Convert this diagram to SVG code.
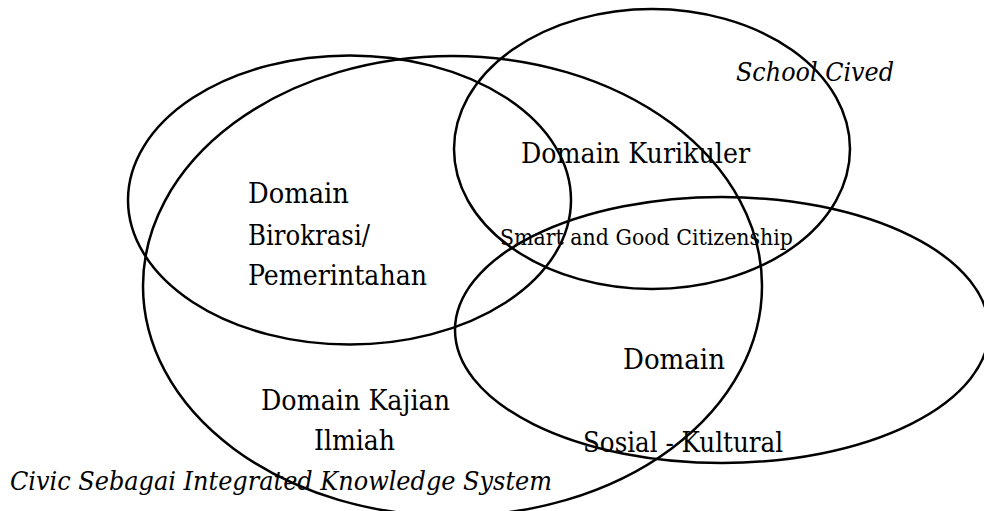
<svg xmlns="http://www.w3.org/2000/svg" width="984" height="511" viewBox="0 0 984 511">
<style>
.e{fill:none;stroke:#000;stroke-width:2.5}
.t{font-family:"DejaVu Serif","Liberation Serif",serif;font-size:27px;fill:#000}
.i{font-style:italic;font-size:26px}
.s{font-size:22px}
</style>
<rect width="984" height="511" fill="#fff"/>
<g id="birokrasi">
<ellipse class="e" cx="349.5" cy="200" rx="221.5" ry="144.5"/>
<text class="t" x="248" y="203" textLength="101" lengthAdjust="spacingAndGlyphs">Domain</text>
<text class="t" x="248" y="245" textLength="122" lengthAdjust="spacingAndGlyphs">Birokrasi/</text>
<text class="t" x="248" y="285" textLength="179" lengthAdjust="spacingAndGlyphs">Pemerintahan</text>
</g>
<g id="kajian">
<ellipse class="e" cx="452.5" cy="286" rx="309.5" ry="230"/>
<text class="t" x="261" y="410" textLength="189" lengthAdjust="spacingAndGlyphs">Domain Kajian</text>
<text class="t" x="314" y="450" textLength="81" lengthAdjust="spacingAndGlyphs">Ilmiah</text>
</g>
<g id="kurikuler">
<ellipse class="e" cx="652" cy="149" rx="198" ry="140"/>
<text class="t" x="521" y="163" textLength="229" lengthAdjust="spacingAndGlyphs">Domain Kurikuler</text>
<text class="t i" x="736" y="81" textLength="158" lengthAdjust="spacingAndGlyphs">School Cived</text>
</g>
<g id="sosial">
<ellipse class="e" cx="722" cy="330" rx="267" ry="133"/>
<text class="t" x="623" y="369" textLength="102" lengthAdjust="spacingAndGlyphs">Domain</text>
<text class="t" x="583" y="452" textLength="200" lengthAdjust="spacingAndGlyphs">Sosial - Kultural</text>
</g>
<g id="center">
<text class="t s" x="500" y="245" textLength="293" lengthAdjust="spacingAndGlyphs">Smart and Good Citizenship</text>
</g>
<g id="caption">
<text class="t i" x="10" y="490" textLength="542" lengthAdjust="spacingAndGlyphs">Civic Sebagai Integrated Knowledge System</text>
</g>
<g id="connectors"></g>
</svg>
